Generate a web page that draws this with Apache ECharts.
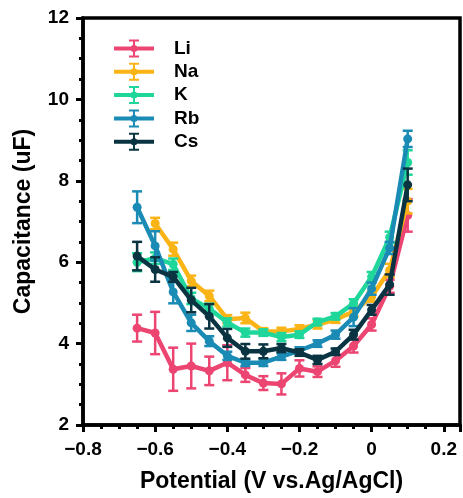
<!DOCTYPE html>
<html>
<head>
<meta charset="utf-8">
<script src="https://cdn.jsdelivr.net/npm/echarts@6/dist/echarts.min.js"></script>
<style>
html,body{margin:0;padding:0;background:#fff;}
#chart{width:463px;height:498px;}
</style>
</head>
<body>
<div id="chart"></div>
<script>
// ---- data ----
const potentials = [-0.65,-0.6,-0.55,-0.5,-0.45,-0.4,-0.35,-0.3,-0.25,-0.2,-0.15,-0.1,-0.05,0,0.05,0.1];
const seriesNames = ['Li','Na','K','Rb','Cs'];
const liVals = [4.38,4.26,3.37,3.45,3.33,3.53,3.23,3.03,3.01,3.39,3.31,3.58,3.94,4.47,5.41,7.15];
const liErr  = [0.33,0.52,0.53,0.55,0.35,0.43,0.17,0.17,0.26,0.2,0.13,0.15,0.16,0.15,0.16,0.4];
const naVals = [null,6.95,6.32,5.54,5.17,4.6,4.63,4.3,4.3,4.36,4.47,4.59,4.79,5.15,5.8,7.5];
const naErr  = [null,0.14,0.16,0.13,0.13,0.1,0.13,0.08,0.09,0.09,0.1,0.08,0.12,0.12,0.16,0.3];
const kVals  = [6.0,6.1,5.95,5.11,4.86,4.52,4.27,4.27,4.16,4.22,4.53,4.67,4.99,5.64,6.61,8.45];
const kErr   = [0.22,0.14,0.14,0.14,0.12,0.1,0.1,0.08,0.1,0.08,0.08,0.08,0.1,0.12,0.14,0.3];
const rbVals = [7.35,6.4,5.27,4.51,4.06,3.7,3.53,3.53,3.68,3.83,4.0,4.22,4.65,5.35,6.35,9.03];
const rbErr  = [0.39,0.36,0.28,0.2,0.12,0.1,0.08,0.08,0.08,0.08,0.08,0.1,0.22,0.15,0.15,0.2];
const csVals = [6.15,5.82,5.64,5.07,4.67,4.14,3.81,3.81,3.89,3.78,3.6,3.8,4.22,4.83,5.45,7.9];
const csErr  = [0.35,0.3,0.12,0.3,0.3,0.22,0.18,0.17,0.1,0.08,0.1,0.08,0.12,0.12,0.25,0.4];
const xTicks = [-0.8,-0.6,-0.4,-0.2,0,0.2];
const xTickLabels = ['\u22120.8','\u22120.6','\u22120.4','\u22120.2','0','0.2'];
const yTicks = [2,4,6,8,10,12];
const yTickLabels = ['2','4','6','8','10','12'];
const colors = ['#EC4572','#FBB416','#1FD69B','#1A8BB5','#0B3442'];

const allVals = [liVals, naVals, kVals, rbVals, csVals];
const allErr = [liErr, naErr, kErr, rbErr, csErr];

const FONT = 'Liberation Sans, Arial, sans-serif';
const legendIcon = 'path://M0 7H40V11H0Z M19 1H21V17H19Z M15 0H25V2H15Z M15 16H25V18H15Z M23.5 9A3.5 3.5 0 1 1 16.5 9A3.5 3.5 0 1 1 23.5 9Z';

function labelFor(v, ticks, labels) {
  for (let i = 0; i < ticks.length; i++) {
    if (Math.abs(v - ticks[i]) < 1e-6) return labels[i];
  }
  return '';
}

const series = [];
seriesNames.forEach((name, i) => {
  const pts = [];
  const errPts = [];
  potentials.forEach((x, j) => {
    const v = allVals[i][j];
    if (v === null || v === undefined) return;
    pts.push([x, v]);
    errPts.push([x, v, allErr[i][j]]);
  });
  series.push({
    type: 'custom',
    name: name + ' err',
    data: errPts,
    z: 2 + i * 2,
    silent: true,
    renderItem: function (params, api) {
      const x = api.value(0), y = api.value(1), e = api.value(2);
      const top = api.coord([x, y + e]);
      const bot = api.coord([x, y - e]);
      const hw = 5;
      const st = { stroke: colors[i], lineWidth: 2.5, fill: null };
      return {
        type: 'group',
        children: [
          { type: 'line', shape: { x1: top[0], y1: top[1], x2: bot[0], y2: bot[1] }, style: st },
          { type: 'line', shape: { x1: top[0] - hw, y1: top[1], x2: top[0] + hw, y2: top[1] }, style: st },
          { type: 'line', shape: { x1: bot[0] - hw, y1: bot[1], x2: bot[0] + hw, y2: bot[1] }, style: st }
        ]
      };
    }
  });
  series.push({
    type: 'line',
    name: name,
    data: pts,
    z: 3 + i * 2,
    symbol: 'circle',
    symbolSize: 9,
    showSymbol: true,
    lineStyle: { width: 4.5, color: colors[i] },
    itemStyle: { color: colors[i] },
    emphasis: { disabled: true }
  });
});

const chart = echarts.init(document.getElementById('chart'), null, { renderer: 'canvas' });
chart.setOption({
  animation: false,
  backgroundColor: '#fff',
  grid: {
    left: 83, right: 2, top: 18, bottom: 67,
    show: true, borderColor: '#000', borderWidth: 3.5, backgroundColor: 'transparent'
  },
  legend: {
    data: seriesNames.map((n, i) => ({ name: n, icon: legendIcon, itemStyle: { color: colors[i], borderWidth: 0 } })),
    orient: 'vertical',
    left: 109,
    top: 34,
    itemWidth: 40,
    itemHeight: 18,
    itemGap: 4.3,
    selectedMode: false,
    textStyle: { fontFamily: FONT, fontWeight: 'bold', fontSize: 19, color: '#000', padding: [0, 0, 0, 15] }
  },
  xAxis: {
    type: 'value',
    min: -0.8,
    max: 0.245,
    interval: 0.2,
    name: 'Potential (V vs.Ag/AgCl)',
    nameLocation: 'middle',
    nameGap: 45,
    nameTextStyle: { fontFamily: FONT, fontWeight: 'bold', fontSize: 23, color: '#000' },
    axisLine: { show: true, onZero: false, lineStyle: { color: '#000', width: 3.5 } },
    axisTick: { show: true, inside: false, length: 7, lineStyle: { color: '#000', width: 3 } },
    minorTick: { show: true, splitNumber: 4, length: 4, lineStyle: { color: '#000', width: 3 } },
    splitLine: { show: false },
    axisLabel: {
      margin: 15,
      fontFamily: FONT, fontWeight: 'bold', fontSize: 19, color: '#000',
      formatter: v => labelFor(v, xTicks, xTickLabels)
    }
  },
  yAxis: {
    type: 'value',
    min: 2,
    max: 12,
    interval: 2,
    name: 'Capacitance (uF)',
    nameLocation: 'middle',
    nameGap: 48,
    nameTextStyle: { fontFamily: FONT, fontWeight: 'bold', fontSize: 23, color: '#000' },
    axisLine: { show: true, onZero: false, lineStyle: { color: '#000', width: 3.5 } },
    axisTick: { show: true, inside: false, length: 7, lineStyle: { color: '#000', width: 3 } },
    minorTick: { show: true, splitNumber: 4, length: 4, lineStyle: { color: '#000', width: 3 } },
    splitLine: { show: false },
    axisLabel: {
      margin: 14,
      fontFamily: FONT, fontWeight: 'bold', fontSize: 19, color: '#000',
      formatter: v => labelFor(v, yTicks, yTickLabels)
    }
  },
  series: series
});
</script>
</body>
</html>
